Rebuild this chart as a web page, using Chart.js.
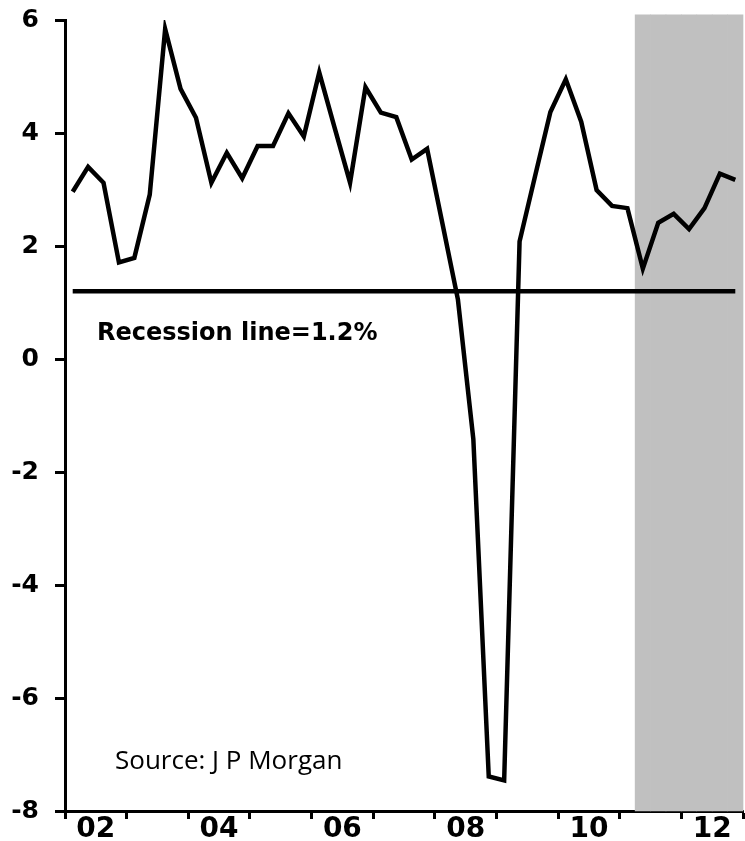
<!DOCTYPE html>
<html>
<head>
<meta charset="utf-8">
<script src="https://cdn.jsdelivr.net/npm/chart.js@4/dist/chart.umd.min.js"></script>
<style>
  html, body { margin: 0; padding: 0; background: #fff; }
  #wrap { width: 745px; height: 841px; }
</style>
</head>
<body>
<div id="wrap"><canvas id="canvasGrowth"></canvas></div>
<script>
"use strict";

// quarterly GDP growth, 2002Q1 - 2012Q4
var years = ['02', '03', '04', '05', '06', '07', '08', '09', '10', '11', '12'];
var quarters = ['Q1', 'Q2', 'Q3', 'Q4'];
var growth = [2.96, 3.40, 3.12, 1.71, 1.79, 2.91, 5.84, 4.78,
              4.27, 3.12, 3.65, 3.20, 3.77, 3.77, 4.35, 3.94,
              5.07, 4.09, 3.12, 4.81, 4.36, 4.28, 3.53, 3.72,
              2.39, 1.05, -1.42, -7.39, -7.46, 2.08, 3.23, 4.37,
              4.95, 4.20, 2.99, 2.71, 2.67, 1.60, 2.41, 2.57,
              2.30, 2.67, 3.28, 3.17];
var recessionLevel = 1.2;
var forecastFrom = 37;          // first shaded quarter
var forecastBand = [-8, 6.09];  // shaded band, bottom / top

var labels = [];
years.forEach(function (y) {
    quarters.forEach(function (q) {
        labels.push(y + q);
    });
});

var recessionData = labels.map(function () { return recessionLevel; });
var bandData = labels.map(function (l, i) { return i >= forecastFrom ? forecastBand : null; });

var notesPlugin = {
    id: 'notes',
    afterDraw: function (chart) {
        var ctx = chart.ctx;
        ctx.save();
        ctx.fillStyle = '#000';
        ctx.textBaseline = 'alphabetic';
        ctx.font = 'bold 24px "DejaVu Sans"';
        ctx.fillText('Recession line=1.2%', 97, 340);
        ctx.font = '26px "Open Sans"';
        ctx.fillText('Source: J P Morgan', 115, 769);
        ctx.restore();
    }
};

const context = document.getElementById('canvasGrowth');
const myChart = new Chart(context, {
    type: 'line',
    data: {
        labels: labels,
        datasets: [{
            label: 'GDP growth',
            data: growth,
            borderColor: '#000',
            borderWidth: 4.5,
            pointRadius: 0,
            tension: 0,
            order: 0
        }, {
            label: 'Recession line',
            data: recessionData,
            borderColor: '#000',
            borderWidth: 4.5,
            pointRadius: 0,
            order: 1
        }, {
            type: 'bar',
            label: 'Forecast',
            data: bandData,
            backgroundColor: '#c0c0c0',
            borderWidth: 0,
            barPercentage: 1,
            categoryPercentage: 1,
            clip: false,
            order: 2
        }]
    },
    options: {
        responsive: true,
        maintainAspectRatio: false,
        animation: false,
        layout: { padding: { top: 20, right: 2, left: 0, bottom: 0 } },
        plugins: {
            legend: { display: false },
            tooltip: { enabled: false }
        },
        scales: {
            x: {
                type: 'category',
                offset: true,
                z: 1,
                border: { color: '#000', width: 3 },
                grid: {
                    offset: true,
                    drawOnChartArea: false,
                    drawTicks: true,
                    tickLength: 8,
                    tickWidth: 3,
                    color: function (c) {
                        return (c.index === undefined || c.index % 4 === 0) ? '#000' : 'rgba(0,0,0,0)';
                    }
                },
                ticks: {
                    autoSkip: false,
                    maxRotation: 0,
                    minRotation: 0,
                    labelOffset: 7.7,
                    padding: -3,
                    color: '#000',
                    font: { family: 'DejaVu Sans', weight: 'bold', size: 28, lineHeight: 1 },
                    callback: function (value, index) {
                        return index % 8 === 1 ? labels[index].slice(0, 2) : '';
                    }
                },
                afterFit: function (scale) {
                    scale.height = 30;
                    scale.paddingLeft = 0;
                    scale.paddingRight = 0;
                }
            },
            y: {
                min: -8,
                max: 6,
                border: { color: '#000', width: 3 },
                grid: {
                    drawOnChartArea: false,
                    tickLength: 10,
                    tickWidth: 3,
                    color: '#000'
                },
                ticks: {
                    stepSize: 2,
                    padding: 16,
                    color: '#000',
                    font: { family: 'DejaVu Sans', weight: 'bold', size: 25 }
                },
                afterFit: function (scale) {
                    scale.width = 65;
                    scale.paddingTop = 0;
                    scale.paddingBottom = 0;
                }
            }
        }
    },
    plugins: [notesPlugin]
});
</script>
</body>
</html>
